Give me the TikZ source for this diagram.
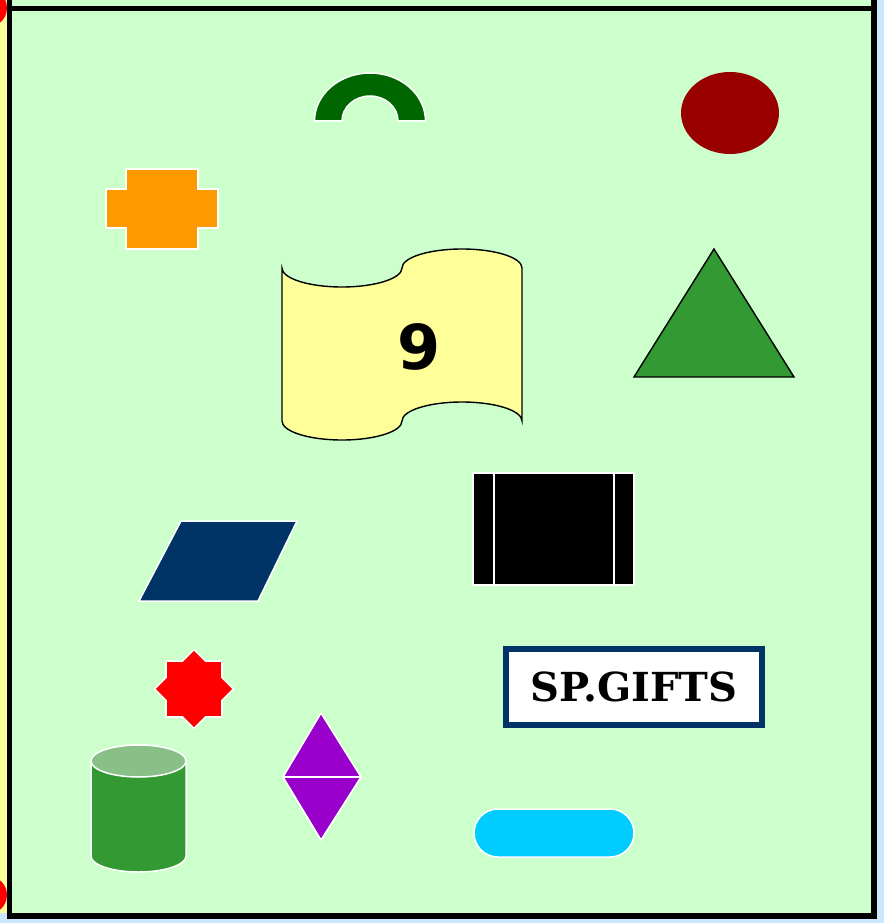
\documentclass[tikz,border=0pt]{standalone}
\usepackage{fontspec}
\newfontfamily\ninefont{DejaVu Sans}
\newfontfamily\giftfont{DejaVu Serif}
\usetikzlibrary{shapes.geometric}
\definecolor{paleblue}{RGB}{204,232,255}
\definecolor{mint}{RGB}{204,255,204}
\definecolor{pastel}{RGB}{255,255,153}
\definecolor{archgreen}{RGB}{0,102,0}
\definecolor{darkred}{RGB}{153,0,0}
\definecolor{amber}{RGB}{255,153,0}
\definecolor{leaf}{RGB}{51,153,51}
\definecolor{leaftop}{RGB}{136,192,136}
\definecolor{navyblue}{RGB}{0,51,102}
\definecolor{plum}{RGB}{153,0,204}
\definecolor{sky}{RGB}{0,204,255}
\tikzset{
    outlined/.style = {draw=white, line width=1.5pt},
    inked/.style = {draw=black, line width=1.4pt},
    borderline/.style = {draw=black, line width=5.5pt},
    badge/.style = {star, star points=8, star point ratio=1.31, minimum size=79pt, inner sep=0pt, fill=red, outlined},
    brandbox/.style = {rectangle, draw=navyblue, line width=6pt, fill=white, minimum width=256pt, minimum height=76pt, text centered, font=\giftfont\bfseries\fontsize{40}{42}\selectfont}
}
\begin{document}
\begin{tikzpicture}[x=1pt, y=1pt]
    \useasboundingbox (0,0) rectangle (884,-923);

    % Page and frame
    \fill[paleblue] (0,0) rectangle (884,-923);
    \fill[pastel] (0,0) rectangle (7,-913);
    \begin{scope}
        \clip (0,0) rectangle (7,-913);
        \fill[red] (-12,-8) circle (19);
        \fill[red] (-12,-895) circle (19);
    \end{scope}
    \fill[mint] (9,0) rectangle (874,-916);
    \draw[borderline] (9.5,-8.5) -- (874,-8.5);
    \draw[borderline] (9.5,0) -- (9.5,-919);
    \draw[borderline] (874,0) -- (874,-919);
    \draw[borderline] (7,-916) -- (877,-916);

    % Shapes
    \filldraw[fill=archgreen, outlined] (314.5,-121) arc (180:0:55.5 and 48) -- (398,-121) arc (0:180:28 and 25) -- cycle;
    \fill[darkred] (730,-113) ellipse (49 and 41);
    \filldraw[fill=amber, outlined] (126,-169) -- (198,-169) -- (198,-189) -- (218,-189) -- (218,-228) -- (198,-228) -- (198,-249) -- (126,-249) -- (126,-228) -- (106,-228) -- (106,-189) -- (126,-189) -- cycle;
    \filldraw[fill=pastel, inked] (282,-268) arc (180:360:60 and 19) arc (180:0:60 and 19) -- (522,-421) arc (0:180:60 and 19) arc (0:-180:60 and 19) -- cycle;
    \node[font=\ninefont\bfseries\fontsize{62}{62}\selectfont, inner sep=0pt] (num) at (419,-347) {9};
    \filldraw[fill=leaf, inked] (714,-249) -- (794,-377) -- (634,-377) -- cycle;

    \filldraw[fill=black, outlined] (473,-473) rectangle (634,-585);
    \draw[outlined] (494,-473) -- (494,-585);
    \draw[outlined] (614,-473) -- (614,-585);
    \filldraw[fill=navyblue, outlined] (181,-521) -- (297,-521) -- (258,-601) -- (139,-601) -- cycle;

    \node[badge] (seal) at (194,-689) {};
    \node[brandbox] (brand) at (634,-687) {SP.GIFTS\hspace{9pt}};

    \filldraw[fill=plum, outlined] (321,-713) -- (361,-777) -- (321,-840) -- (283,-777) -- cycle;
    \draw[outlined] (283,-777) -- (361,-777);

    \filldraw[fill=leaf, outlined] (91,-761) -- (91,-856) arc (180:360:47.5 and 16) -- (186,-761) arc (0:180:47.5 and 16) -- cycle;
    \filldraw[fill=leaftop, outlined] (138.5,-761) ellipse (47.5 and 16);

    \filldraw[fill=sky, outlined, rounded corners=24pt] (474,-809) rectangle (634,-857);
\end{tikzpicture}
\end{document}
